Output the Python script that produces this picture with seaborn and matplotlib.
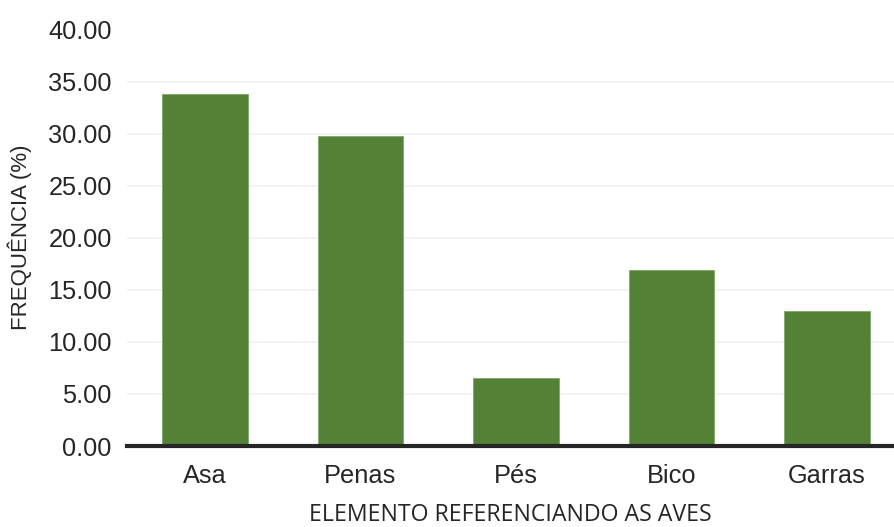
import matplotlib
matplotlib.use("Agg")
import matplotlib.pyplot as plt
import seaborn as sns
import pandas as pd

categorias = ["Asa", "Penas", "Pés", "Bico", "Garras"]
frequencias = [33.8, 29.8, 6.5, 16.9, 13.0]
yticks = [0, 5, 10, 15, 20, 25, 30, 35, 40]

df = pd.DataFrame({"elemento": categorias, "freq": frequencias})

sns.set_theme(style="white")
plt.rcParams["font.family"] = ["Liberation Sans", "DejaVu Sans"]

fig = plt.figure(figsize=(8.94, 5.27), dpi=100)
ax = fig.add_axes([127 / 894, 1 - 446 / 527, (894 - 127) / 894, (446 - 29.5) / 527])

sns.barplot(data=df, x="elemento", y="freq", color="#538135", saturation=1,
            width=0.55, ax=ax, edgecolor="#7fa86a", linewidth=0.6)

ax.set_ylim(0, 40)
ax.set_xlim(-0.5, 4.43)
ax.set_yticks(yticks)
ax.set_yticklabels([f"{v:.2f}" for v in yticks])
ax.yaxis.grid(True, color="#f0f0f0", linewidth=1.2)
ax.set_axisbelow(True)

for s in ["top", "right", "left"]:
    ax.spines[s].set_visible(False)
ax.spines["bottom"].set_color("#262626")
ax.spines["bottom"].set_linewidth(3)
ax.spines["bottom"].set_zorder(5)

ax.tick_params(axis="y", length=0, pad=11, labelsize=18.3, labelcolor="#262626")
ax.tick_params(axis="x", length=0, pad=13, labelsize=18.3, labelcolor="#262626")

ax.set_ylabel("FREQUÊNCIA (%)", fontsize=16, color="#262626", labelpad=12)
ax.set_xlabel("ELEMENTO REFERENCIANDO AS AVES", fontsize=16.7, color="#262626",
              labelpad=10.5, family=["Open Sans", "DejaVu Sans"])

fig.savefig("out.png", dpi=100, facecolor="white")
